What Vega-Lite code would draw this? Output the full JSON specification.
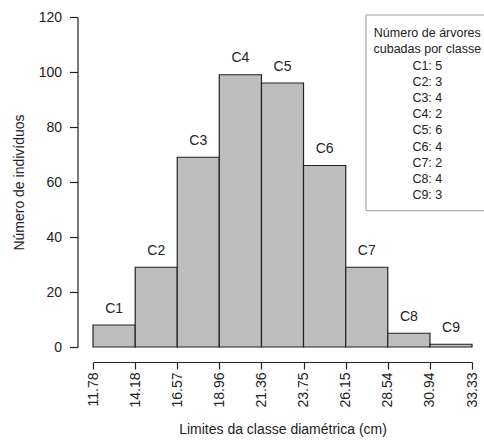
{
  "$schema": "https://vega.github.io/schema/vega-lite/v6.json",
  "width": 379,
  "height": 330,
  "autosize": {"type": "none"},
  "padding": {"left": 93, "top": 17, "right": 12, "bottom": 93},
  "background": "white",
  "config": {
    "view": {"stroke": null},
    "font": "Liberation Sans",
    "axis": {
      "domainColor": "#222222",
      "tickColor": "#222222",
      "labelColor": "#222222",
      "titleColor": "#222222",
      "labelFont": "Liberation Sans",
      "titleFont": "Liberation Sans",
      "labelFontSize": 14,
      "titleFontSize": 14,
      "titleFontWeight": "normal",
      "grid": false,
      "domainWidth": 1.2,
      "tickWidth": 1.2
    }
  },
  "layer": [
    {
      "data": {
        "values": [
          {"classe": "C1", "lower": 11.78, "upper": 14.18, "individuos": 8, "arvores": 5},
          {"classe": "C2", "lower": 14.18, "upper": 16.57, "individuos": 29, "arvores": 3},
          {"classe": "C3", "lower": 16.57, "upper": 18.96, "individuos": 69, "arvores": 4},
          {"classe": "C4", "lower": 18.96, "upper": 21.36, "individuos": 99, "arvores": 2},
          {"classe": "C5", "lower": 21.36, "upper": 23.75, "individuos": 96, "arvores": 6},
          {"classe": "C6", "lower": 23.75, "upper": 26.15, "individuos": 66, "arvores": 4},
          {"classe": "C7", "lower": 26.15, "upper": 28.54, "individuos": 29, "arvores": 2},
          {"classe": "C8", "lower": 28.54, "upper": 30.94, "individuos": 5, "arvores": 4},
          {"classe": "C9", "lower": 30.94, "upper": 33.33, "individuos": 1, "arvores": 3}
        ]
      },
      "layer": [
        {
          "mark": {"type": "bar", "fill": "#bebebe", "stroke": "#222222", "strokeWidth": 1.2},
          "encoding": {
            "x": {
              "field": "lower",
              "type": "quantitative",
              "scale": {"domain": [11.78, 33.33], "nice": false, "zero": false},
              "axis": {
                "title": "Limites da classe diamétrica (cm)",
                "values": [11.78, 14.18, 16.57, 18.96, 21.36, 23.75, 26.15, 28.54, 30.94, 33.33],
                "format": ".2f",
                "labelAngle": -90,
                "labelAlign": "right",
                "labelBaseline": "middle",
                "offset": 15,
                "tickSize": 7,
                "labelPadding": 3,
                "titlePadding": 15,
                "labelFlush": false,
                "labelOverlap": false
              }
            },
            "x2": {"field": "upper"},
            "y": {
              "field": "individuos",
              "type": "quantitative",
              "scale": {"domain": [0, 120], "nice": false},
              "axis": {
                "title": "Número de indivíduos",
                "values": [0, 20, 40, 60, 80, 100, 120],
                "offset": 15.5,
                "tickSize": 8,
                "labelPadding": 8,
                "titlePadding": 12,
                "labelFlush": false
              }
            },
            "y2": {"datum": 0}
          }
        },
        {
          "transform": [{"calculate": "(datum.lower + datum.upper) / 2", "as": "centro"}],
          "mark": {"type": "text", "baseline": "middle", "dy": -16.5, "fontSize": 14, "color": "#222222"},
          "encoding": {
            "x": {"field": "centro", "type": "quantitative"},
            "y": {"field": "individuos", "type": "quantitative"},
            "text": {"field": "classe"}
          }
        }
      ]
    },
    {
      "data": {"values": [{"legenda": "Número de árvores cubadas por classe"}]},
      "mark": {"type": "rect", "fill": "white", "stroke": "#9a9a9a", "strokeWidth": 1},
      "encoding": {
        "x": {"datum": 27.3},
        "x2": {"datum": 34.14},
        "y": {"datum": 120.73},
        "y2": {"datum": 49.56}
      }
    },
    {
      "data": {"values": [{"legenda": "Número de árvores cubadas por classe"}]},
      "mark": {
        "type": "text",
        "align": "center",
        "baseline": "top",
        "fontSize": 12.5,
        "fontWeight": "normal",
        "lineHeight": 16.2,
        "color": "#222222",
        "text": ["Número de árvores", "cubadas por classe", "C1: 5", "C2: 3", "C3: 4", "C4: 2", "C5: 6", "C6: 4", "C7: 2", "C8: 4", "C9: 3"]
      },
      "encoding": {
        "x": {"datum": 30.79},
        "y": {"datum": 116.3}
      }
    }
  ]
}
